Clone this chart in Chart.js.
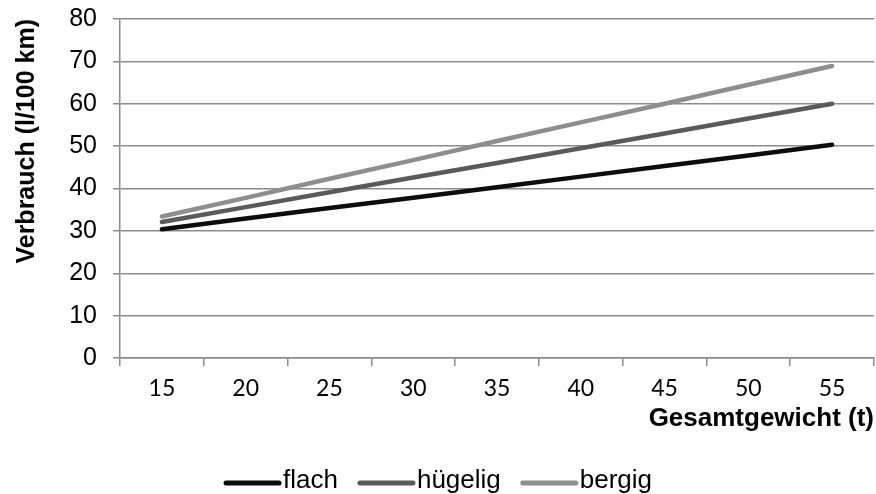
<!DOCTYPE html>
<html>
<head>
<meta charset="utf-8">
<script src="https://cdn.jsdelivr.net/npm/chart.js@4/dist/chart.umd.min.js"></script>
<style>
  body { margin: 0; background: #fff; }
  #wrap { width: 876px; height: 494px; }
</style>
</head>
<body>
<div id="wrap"><canvas id="fuelChart"></canvas></div>
<script>
const weights = ['15', '20', '25', '30', '35', '40', '45', '50', '55'];
const flach   = [30.4, 32.9, 35.4, 37.8, 40.3, 42.8, 45.3, 47.8, 50.3];
const huegelig = [32.1, 35.6, 39.1, 42.6, 46.0, 49.5, 53.0, 56.5, 60.0];
const bergig  = [33.4, 37.8, 42.3, 46.7, 51.2, 55.6, 60.0, 64.5, 68.9];
const yTicks = [0, 10, 20, 30, 40, 50, 60, 70, 80];

const gridGray = '#8c8c8c';

// legend drawn by hand so the line sits right next to its label like in Excel
const bottomLegend = {
  id: 'bottomLegend',
  afterDraw(chart) {
    const ctx = chart.ctx;
    ctx.save();
    ctx.font = '26px "Liberation Sans", Arial, sans-serif';
    ctx.textBaseline = 'middle';
    let x = 226;
    const y = 481;
    chart.data.datasets.forEach(ds => {
      ctx.strokeStyle = ds.borderColor;
      ctx.lineWidth = 5;
      ctx.lineCap = 'round';
      ctx.beginPath();
      ctx.moveTo(x, y + 2);
      ctx.lineTo(x + 53, y + 2);
      ctx.stroke();
      x += 57;
      ctx.fillStyle = '#000';
      ctx.fillText(ds.label, x, y);
      x += ctx.measureText(ds.label).width + 22;
    });
    ctx.restore();
  }
};

const ctx = document.getElementById('fuelChart').getContext('2d');

new Chart(ctx, {
  type: 'line',
  data: {
    labels: weights,
    datasets: [
      { label: 'flach', data: flach, borderColor: '#0d0d0d' },
      { label: 'hügelig', data: huegelig, borderColor: '#5a5a5a' },
      { label: 'bergig', data: bergig, borderColor: '#8e8e8e' }
    ].map(ds => Object.assign(ds, {
      borderWidth: 4.5,
      borderCapStyle: 'round',
      pointRadius: 0,
      tension: 0,
      fill: false
    }))
  },
  options: {
    responsive: true,
    maintainAspectRatio: false,
    animation: false,
    layout: { padding: { top: 19, right: 2, left: 0, bottom: 58 } },
    plugins: {
      legend: { display: false },
      tooltip: { enabled: false }
    },
    scales: {
      x: {
        offset: true,
        grid: {
          offset: true,
          drawOnChartArea: false,
          color: gridGray,
          tickLength: 8,
          lineWidth: 1.5
        },
        border: { color: gridGray, width: 1.5 },
        ticks: {
          color: '#000',
          font: { family: 'Lato, "Open Sans", sans-serif', size: 23 },
          padding: 9,
          maxRotation: 0
        },
        title: {
          display: true,
          text: 'Gesamtgewicht (t)',
          align: 'end',
          color: '#000',
          font: { family: '"Liberation Sans", Arial, sans-serif', size: 26, weight: 'bold' },
          padding: { top: 0, bottom: 2 }
        },
        afterFit(scale) { scale.height = 78; }
      },
      y: {
        min: 0,
        max: 80,
        afterBuildTicks(scale) { scale.ticks = yTicks.map(v => ({ value: v })); },
        grid: {
          color: gridGray,
          tickLength: 7,
          lineWidth: 1.5
        },
        border: { color: gridGray, width: 1.5 },
        ticks: {
          color: '#000',
          font: { family: '"Liberation Sans", Arial, sans-serif', size: 25 },
          padding: 16
        },
        title: {
          display: true,
          text: 'Verbrauch (l/100 km)',
          align: 'end',
          color: '#000',
          font: { family: '"Liberation Sans", Arial, sans-serif', size: 25, weight: 'bold' },
          padding: { top: 12, bottom: 0 }
        },
        afterFit(scale) {
          scale.width = 120;
          // tick padding would otherwise push the plot top down
          scale.paddingTop = 0;
          scale.paddingBottom = 0;
        }
      }
    }
  },
  plugins: [bottomLegend]
});
</script>
</body>
</html>
